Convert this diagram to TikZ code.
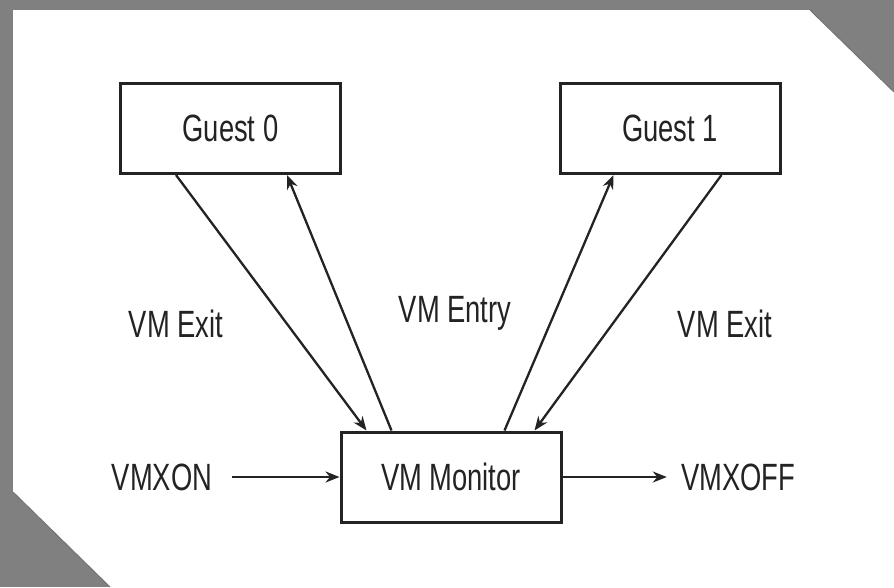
\documentclass[tikz,border=0pt]{standalone}
\usepackage{fontspec}
\setmainfont[FakeStretch=0.72]{Liberation Sans}
\usetikzlibrary{arrows.meta}
\definecolor{framegray}{RGB}{128,128,128}
\definecolor{ink}{RGB}{35,35,35}
\begin{document}
\begin{tikzpicture}[x=1pt,y=1pt,
  box/.style={draw=ink,line width=3pt,fill=white,inner sep=0pt,minimum width=220pt,minimum height=90pt,font=\fontsize{38}{42}\selectfont,text=ink},
  lbl/.style={inner sep=0pt,font=\fontsize{38}{42}\selectfont,text=ink},
  conn/.style={draw=ink,line width=2.3pt,-{Stealth[length=14pt,width=11pt]}}]
\useasboundingbox (0,0) rectangle (894,-587);
% frame
\fill[framegray] (0,0) rectangle (894,-587);
\fill[white] (13,-10) -- (810,-10) -- (894,-92) -- (894,-587) -- (110,-587) -- (13,-492) -- cycle;
\draw[black!55,line width=1pt] (810,-10) -- (894,-92);
\draw[black!55,line width=1pt] (13,-492) -- (110,-587);
% boxes
\node[box] (g0) at (230.5,-128.5) {Guest 0};
\node[box] (g1) at (670,-128.5) {Guest 1};
\node[box] (mon) at (451,-477) {VM Monitor};
% labels
\node[lbl] (exitL) at (176,-324) {VM Exit};
\node[lbl] (entry) at (455,-313) {VM Entry};
\node[lbl] (exitR) at (725,-324) {VM Exit};
\node[lbl] (on) at (162,-477) {VMXON};
\node[lbl] (off) at (738,-477) {VMXOFF};
% connectors
\draw[conn] ([xshift=57pt]g0.south west) -- ([xshift=27pt]mon.north west);
\draw[conn] ([xshift=52pt]mon.north west) -- ([xshift=168pt]g0.south west);
\draw[conn] ([xshift=165pt]mon.north west) -- ([xshift=55pt]g1.south west);
\draw[conn] ([xshift=163pt]g1.south west) -- ([xshift=195pt]mon.north west);
\draw[conn] ([xshift=20pt]on.east) -- (mon.west);
\draw[conn] (mon.east) -- ([xshift=-14pt]off.west);
\end{tikzpicture}
\end{document}
